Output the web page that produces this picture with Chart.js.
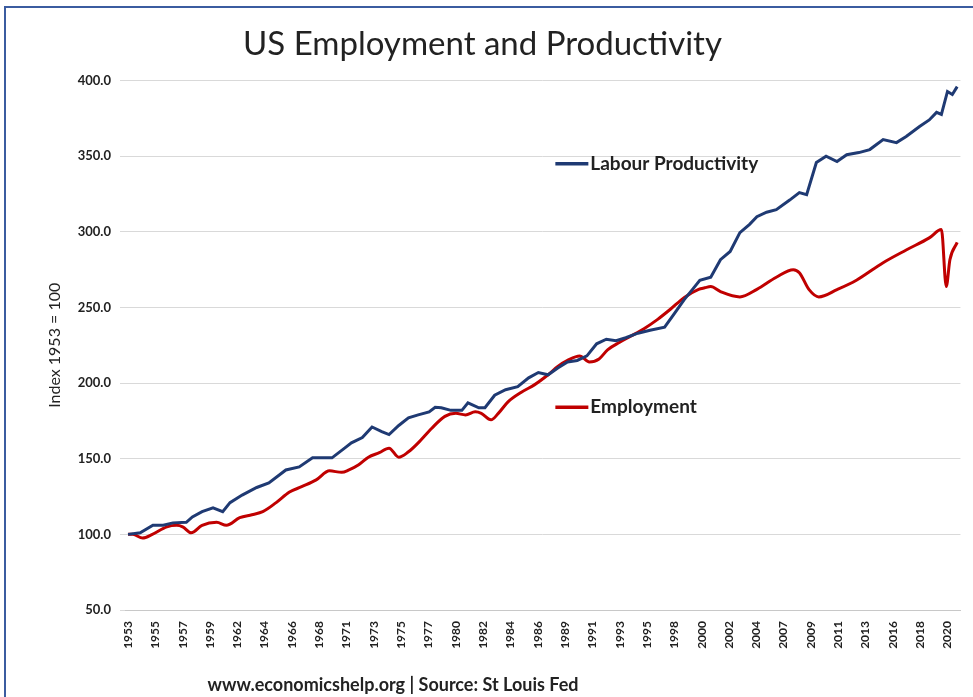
<!DOCTYPE html>
<html>
<head>
<meta charset="utf-8">
<script src="https://cdn.jsdelivr.net/npm/chart.js@4.4.1/dist/chart.umd.min.js"></script>
<style>
  html, body { margin: 0; padding: 0; background: #fff; }
  #wrap { position: relative; width: 973px; height: 697px; overflow: hidden; }
  #frame { position: absolute; left: 4px; top: 6px; width: 1200px; height: 900px;
           border-top: 2px solid #3b5ca0; border-left: 2px solid #3b5ca0; }
  #source { position: absolute; left: 0; width: 786px; top: 673px; text-align: center;
            font: bold 18px Lato, "Open Sans", sans-serif; color: #222; }
</style>
</head>
<body>
<div id="wrap">
  <div id="frame"></div>
  <canvas id="chart" width="973" height="697"></canvas>
  <div id="source">www.economicshelp.org | Source: St Louis Fed</div>
</div>
<script>
// values (index, 1953 = 100)
const prodYears = [1953.0, 1954.0, 1955.05, 1955.9, 1956.7, 1957.8, 1958.3, 1959.1, 1960.0, 1960.8,
  1961.4, 1962.4, 1963.6, 1964.6, 1966.0, 1967.1, 1968.2, 1969.3, 1969.8, 1971.0,
  1971.4, 1972.3, 1973.1, 1973.9, 1974.5, 1975.3, 1976.1, 1976.9, 1977.8, 1978.3,
  1978.8, 1979.6, 1980.5, 1981.0, 1981.9, 1982.4, 1983.2, 1984.1, 1985.1, 1986.0,
  1986.8, 1987.6, 1988.4, 1989.2, 1990.0, 1990.8, 1991.6, 1992.4, 1993.2, 1994.0,
  1995.0, 1996.0, 1997.2, 1998.0, 1998.8, 1999.5, 2000.1, 2001.0, 2001.8, 2002.6,
  2003.4, 2004.2, 2004.8, 2005.6, 2006.4, 2007.5, 2008.3, 2008.9, 2009.7, 2010.5,
  2011.4, 2012.2, 2013.2, 2014.1, 2015.2, 2016.3, 2017.1, 2018.2, 2019.0, 2019.6,
  2020.0, 2020.5, 2020.9, 2021.3];
const prodValues = [100, 101, 106, 106, 107.6, 108, 111.5, 115, 117.5, 115,
  121, 126, 131, 134, 142.6, 144.6, 150.6, 150.6, 150.6, 158,
  160.5, 164, 171, 168, 166, 172, 177, 179, 181, 184,
  183.7, 182, 182, 187, 183.7, 183.7, 192, 195.6, 197.6, 203.5,
  207, 205.5, 210, 214, 215, 218, 226, 229, 228, 230,
  233, 235, 237, 246, 255, 262, 268, 270, 281.6, 287,
  299.5, 305, 310, 313, 314.7, 321, 326, 324.6, 345.8, 350,
  346.5, 351, 352.4, 354.4, 361, 359, 363, 369.6, 374, 379,
  377.6, 392.8, 390.8, 396];

const empYears = [1953.0, 1953.4, 1954.2, 1955.0, 1956.2, 1957.0, 1957.5, 1958.2, 1959.1, 1960.3,
  1961.1, 1962.2, 1963.2, 1964.1, 1965.2, 1966.3, 1967.3, 1968.5, 1969.6, 1970.6,
  1971.2, 1972.0, 1972.8, 1973.7, 1974.5, 1975.3, 1976.1, 1976.9, 1978.0, 1979.1,
  1980.0, 1980.8, 1981.6, 1982.1, 1982.9, 1983.5, 1984.3, 1985.4, 1986.5, 1987.6,
  1988.4, 1989.2, 1990.2, 1991.0, 1991.8, 1992.5, 1993.5, 1994.4, 1995.5, 1996.6,
  1997.7, 1998.8, 2000.0, 2000.5, 2001.0, 2001.8, 2003.4, 2004.8, 2006.4, 2007.8,
  2008.3, 2009.1, 2009.9, 2011.4, 2013.0, 2015.2, 2017.1, 2019.0, 2020.0, 2020.4,
  2020.7, 2021.3];
const empValues = [100, 100, 97.6, 100, 105, 106, 105, 101, 106, 108,
  106, 111, 113, 115, 121, 128, 131.5, 136, 142, 141,
  142.6, 146, 151, 154, 157, 151, 154.6, 160.5, 170, 178,
  180, 179, 181, 180, 175.7, 180, 187.6, 194, 199, 205.5,
  211, 215, 218, 214, 216, 222, 227, 231, 236, 242,
  249, 256.5, 262, 263, 263.8, 260.5, 257, 262, 270, 275,
  273, 261.8, 257, 261.8, 268, 279.6, 288, 296, 301.5, 263.8,
  281.6, 293];

const xTickLabels = ['1953', '1955', '1957', '1959', '1962', '1964', '1966', '1968', '1971', '1973',
  '1975', '1977', '1980', '1982', '1984', '1986', '1989', '1991', '1993', '1995',
  '1998', '2000', '2002', '2004', '2007', '2009', '2011', '2013', '2016', '2018', '2020'];

const seriesNames = ['Labour Productivity', 'Employment'];
const seriesColors = ['#1f3a73', '#c00000'];

const FONT = 'Lato, "Open Sans", sans-serif';

function toPoints(xs, ys) {
    return xs.map(function (x, i) { return { x: x, y: ys[i] }; });
}

// labels drawn next to the lines, like the original in-chart legend
const inlineLegend = {
    id: 'inlineLegend',
    afterDatasetsDraw(chart) {
        const ctx = chart.ctx;
        const xs = chart.scales.x;
        const ys = chart.scales.y;
        const spots = [
            { x: 1988.2, y: 345 },
            { x: 1988.2, y: 184 }
        ];
        ctx.save();
        spots.forEach(function (s, i) {
            const px = xs.getPixelForValue(s.x);
            const py = ys.getPixelForValue(s.y);
            ctx.strokeStyle = seriesColors[i];
            ctx.lineWidth = 3.5;
            ctx.beginPath();
            ctx.moveTo(px, py);
            ctx.lineTo(px + 33, py);
            ctx.stroke();
            ctx.fillStyle = '#222';
            ctx.font = 'bold 19px ' + FONT;
            ctx.textBaseline = 'middle';
            ctx.textAlign = 'left';
            ctx.fillText(seriesNames[i], px + 35, py);
        });
        ctx.restore();
    }
};

new Chart(document.getElementById('chart'), {
    type: 'line',
    data: {
        datasets: [{
            label: seriesNames[0],
            data: toPoints(prodYears, prodValues),
            borderColor: seriesColors[0],
            borderWidth: 3,
            pointRadius: 0,
            tension: 0
        }, {
            label: seriesNames[1],
            data: toPoints(empYears, empValues),
            borderColor: seriesColors[1],
            borderWidth: 3,
            pointRadius: 0,
            cubicInterpolationMode: 'monotone'
        }]
    },
    options: {
        responsive: false,
        animation: false,
        devicePixelRatio: 1,
        layout: { padding: { left: 0, right: 8, top: 0, bottom: 40 } },
        plugins: {
            legend: { display: false },
            tooltip: { enabled: false },
            title: {
                display: true,
                text: 'US Employment and Productivity',
                color: '#222',
                font: { family: FONT, size: 33, weight: 'normal', lineHeight: 1.2 },
                padding: { top: 25, bottom: 16 }
            }
        },
        scales: {
            x: {
                type: 'linear',
                min: 1952.75,
                max: 2021.57,
                afterBuildTicks(scale) {
                    scale.ticks = xTickLabels.map(function (l, i) { return { value: 1953 + i * 2.25 }; });
                },
                afterFit(scale) { scale.height = 47; },
                grid: { display: false, drawTicks: false },
                border: { display: true, color: '#c8c8c8', width: 1 },
                ticks: {
                    autoSkip: false,
                    minRotation: 90,
                    maxRotation: 90,
                    padding: 11,
                    color: '#222',
                    font: { family: FONT, size: 12, weight: 'bold' },
                    callback: function (v, i) { return xTickLabels[i]; }
                }
            },
            y: {
                min: 50,
                max: 400,
                afterFit(scale) { scale.width = 125; },
                grid: { color: '#d9d9d9', lineWidth: 1, drawTicks: true, tickLength: 5 },
                border: { display: false },
                ticks: {
                    stepSize: 50,
                    padding: 9,
                    color: '#222',
                    font: { family: FONT, size: 13, weight: 'bold' },
                    callback: function (v) { return v.toFixed(1); }
                },
                title: {
                    display: true,
                    text: 'Index 1953 = 100',
                    color: '#222',
                    font: { family: FONT, size: 16 },
                    padding: { top: 45, bottom: 0 }
                }
            }
        }
    },
    plugins: [inlineLegend]
});
</script>
</body>
</html>
